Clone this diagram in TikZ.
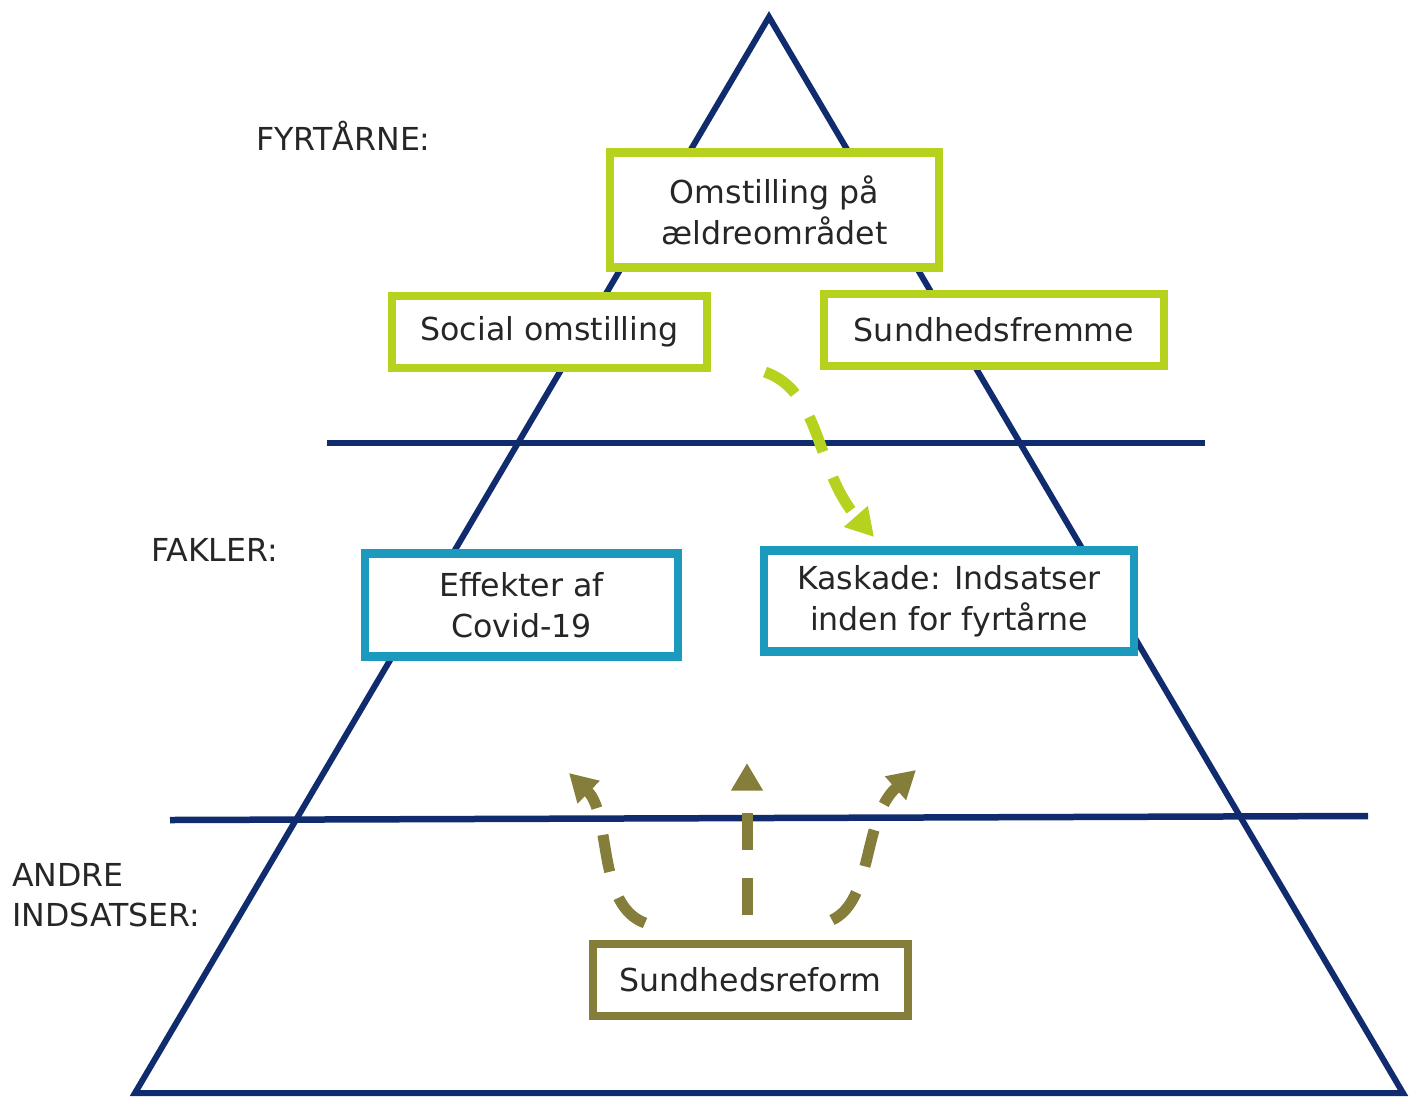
\documentclass[tikz,border=0pt]{standalone}
\usepackage{fontspec}
\setmainfont{DejaVu Sans}
\usetikzlibrary{arrows.meta, positioning, calc}
\definecolor{pyrcol}{RGB}{16,44,110}
\definecolor{fyrcol}{RGB}{182,210,30}
\definecolor{fakcol}{RGB}{28,154,190}
\definecolor{andcol}{RGB}{132,126,58}

\begin{document}
\begin{tikzpicture}[x=0.02cm,y=-0.02cm,>={Triangle[length=0.55cm,width=0.6cm]},
  box/.style={rectangle,draw,fill=white,line width=0.17cm,align=center,
    text=black!85,font=\fontsize{18}{23.3}\selectfont},
  fyr node/.style={box,draw=fyrcol},
  fak node/.style={box,draw=fakcol},
  and node/.style={box,draw=andcol,line width=0.15cm},
  lbl node/.style={anchor=west,align=left,text=black!85,font=\fontsize{18}{22.8}\selectfont},
  dsh/.style={->,line width=0.22cm,dash pattern=on 0.75cm off 0.55cm}]
  \useasboundingbox (0,0) rectangle (1415,1099);
  % pyramid and levels
  \draw[pyrcol,line width=0.12cm,line join=miter] (135,1093) -- (769,17) -- (1403,1093) -- cycle;
  \draw[pyrcol,line width=0.12cm] (327,443) -- (1205,443);
  \draw[pyrcol,line width=0.13cm] (170,820) -- (1368,816);
  % boxes
  \node[fyr node,minimum width=6.58cm,minimum height=2.3cm] (1) at (774.5,210) {Omstilling på\\ældreområdet};
  \node[fyr node,minimum width=6.3cm,minimum height=1.44cm] (2) at (549.5,332) {Social omstilling};
  \node[fyr node,minimum width=6.8cm,minimum height=1.44cm] (3) at (994,330) {Sundhedsfremme};
  \node[fak node,minimum width=6.26cm,minimum height=2.06cm] (4) at (521.5,605) {Effekter af\\Covid-19};
  \node[fak node,minimum width=7.4cm,minimum height=2.02cm] (5) at (949,601) {Kaskade: Indsatser\\inden for fyrtårne};
  \node[and node,minimum width=6.3cm,minimum height=1.44cm] (6) at (750.5,980) {Sundhedsreform};
  % level labels
  \node[lbl node] (7) at (250,136) {FYRTÅRNE:};
  \node[lbl node] (8) at (145,550) {FAKLER:};
  \node[lbl node] (9) at (6,895) {ANDRE\\INDSATSER:};
  % arrows
  \coordinate (g1) at (765,372);
  \coordinate (g2) at (874,537);
  \coordinate (o1) at (645,923);
  \coordinate (o2) at (569,773);
  \coordinate (o3) at (747,915);
  \coordinate (o4) at (747,763);
  \coordinate (o5) at (832,920);
  \coordinate (o6) at (916,770);
  \draw[dsh,fyrcol] (g1) .. controls (822,392) and (815,470) .. (g2);
  \draw[dsh,andcol] (o1) .. controls (596,905) and (612,815) .. (o2);
  \draw[dsh,andcol] (o3) -- (o4);
  \draw[dsh,andcol] (o5) .. controls (874,900) and (862,818) .. (o6);
\end{tikzpicture}
\end{document}
